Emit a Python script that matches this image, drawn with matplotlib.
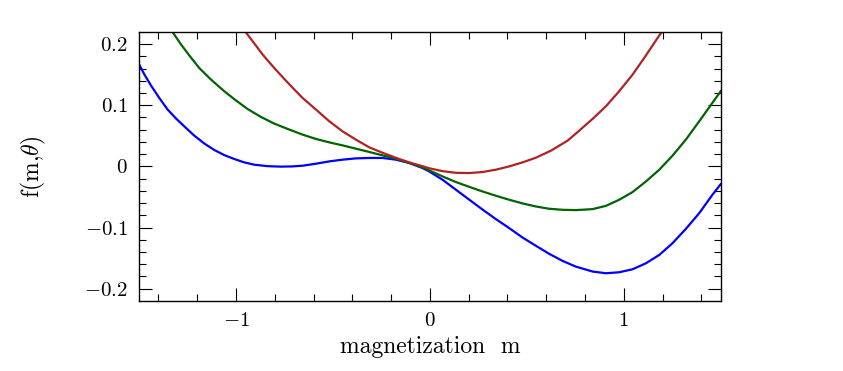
import numpy as np
import matplotlib
matplotlib.use("Agg")
import matplotlib.pyplot as plt

plt.rcParams['font.family'] = 'serif'
plt.rcParams['font.serif'] = ['cmr10']
plt.rcParams['mathtext.fontset'] = 'cm'

# values
m_blue = [-1.5, -1.473, -1.439, -1.396, -1.353, -1.310, -1.267, -1.216, -1.164, -1.113,
          -1.061, -1.009, -0.958, -0.906, -0.838, -0.769, -0.708, -0.657, -0.588, -0.519,
          -0.451, -0.382, -0.313, -0.244, -0.175, -0.107, -0.038, -0.004, 0.065, 0.134,
          0.203, 0.271, 0.340, 0.409, 0.478, 0.547, 0.615, 0.684, 0.753, 0.839,
          0.908, 0.976, 1.045, 1.114, 1.183, 1.251, 1.320, 1.389, 1.457, 1.5]
f_blue = [0.167, 0.1505, 0.1325, 0.112, 0.093, 0.0785, 0.0655, 0.0505, 0.0375, 0.027,
          0.0185, 0.0121, 0.0066, 0.0028, 0.0004, -0.0004, 0.0, 0.0011, 0.0044, 0.0082,
          0.011, 0.0131, 0.0138, 0.0138, 0.011, 0.0056, -0.0027, -0.0082, -0.0218, -0.0382,
          -0.0545, -0.0705, -0.0862, -0.101, -0.1164, -0.130, -0.143, -0.1546, -0.164, -0.172,
          -0.1748, -0.1732, -0.1683, -0.1585, -0.1448, -0.1257, -0.1022, -0.0765, -0.0464, -0.029]

m_green = [-1.33, -1.284, -1.241, -1.190, -1.129, -1.061, -1.001, -0.941, -0.872, -0.803,
           -0.734, -0.657, -0.588, -0.519, -0.451, -0.382, -0.313, -0.244, -0.175, -0.107,
           -0.038, 0.065, 0.134, 0.203, 0.271, 0.340, 0.409, 0.478, 0.547, 0.615,
           0.684, 0.753, 0.839, 0.908, 0.976, 1.045, 1.114, 1.183, 1.251, 1.320,
           1.389, 1.457, 1.5]
f_green = [0.221, 0.1995, 0.1815, 0.161, 0.142, 0.123, 0.108, 0.094, 0.081, 0.070,
           0.0613, 0.052, 0.0449, 0.0393, 0.0344, 0.029, 0.0236, 0.018, 0.0126, 0.0056,
           -0.0016, -0.0164, -0.0256, -0.0335, -0.041, -0.048, -0.0546, -0.0606, -0.0656, -0.0693,
           -0.071, -0.0715, -0.0699, -0.0645, -0.0546, -0.042, -0.0246, -0.0054, 0.0175, 0.0438,
           0.0738, 0.104, 0.123]

m_red = [-0.957, -0.915, -0.863, -0.803, -0.751, -0.703, -0.657, -0.588, -0.519, -0.451,
         -0.382, -0.313, -0.244, -0.175, -0.107, -0.038, -0.004, 0.065, 0.134, 0.203,
         0.271, 0.340, 0.409, 0.478, 0.547, 0.624, 0.710, 0.770, 0.839, 0.908,
         0.976, 1.045, 1.114, 1.183, 1.203]
f_red = [0.2225, 0.205, 0.183, 0.161, 0.143, 0.127, 0.112, 0.093, 0.0738, 0.0574,
         0.0438, 0.0312, 0.0222, 0.0140, 0.0066, 0.0003, -0.0030, -0.0078, -0.0105, -0.0109,
         -0.0092, -0.0054, 0.0, 0.0066, 0.0143, 0.0257, 0.0421, 0.0585, 0.0777, 0.0984,
         0.123, 0.150, 0.1815, 0.2143, 0.2225]

fig = plt.figure(figsize=(8.43, 3.71), dpi=100)
ax = fig.add_axes([0.165, 0.189, 0.690, 0.725])

ax.plot(m_blue, f_blue, color='#0000ff', lw=1.6)
ax.plot(m_green, f_green, color='#006400', lw=1.6)
ax.plot(m_red, f_red, color='#b22222', lw=1.6)

ax.set_xlim(-1.5, 1.5)
ax.set_ylim(-0.22, 0.22)
ax.set_xticks([-1, 0, 1], ['$-1$', '$0$', '$1$'])
ax.set_yticks([-0.2, -0.1, 0, 0.1, 0.2], ['$-0.2$', '$-0.1$', '$0$', '$0.1$', '$0.2$'])
ax.set_xticks(np.arange(-1.4, 1.5, 0.2), minor=True)
ax.set_yticks(np.arange(-0.2, 0.21, 0.02), minor=True)
ax.tick_params(which='both', direction='in', top=True, right=True, labelsize=15, width=0.8)
ax.tick_params(which='major', length=9.5, pad=8)
ax.tick_params(which='minor', length=5)
for s in ax.spines.values():
    s.set_linewidth(1.0)

ax.set_xlabel('magnetization  m', fontsize=17, labelpad=4)
ax.set_ylabel(r'f(m,$\theta$)', fontsize=17, labelpad=26)

fig.savefig('out.png', dpi=100)
